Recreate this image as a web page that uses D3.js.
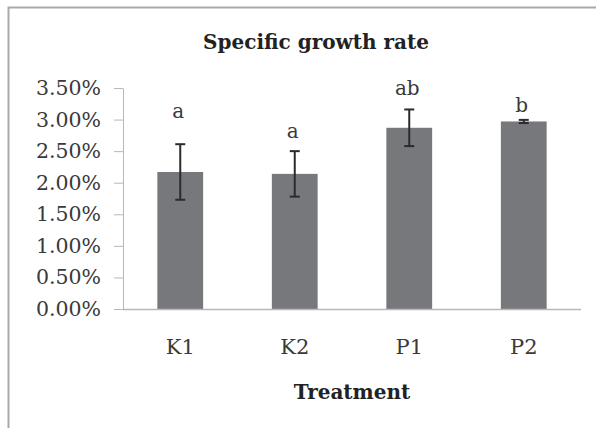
<!DOCTYPE html>
<html>
<head>
<meta charset="utf-8">
<script src="https://cdn.jsdelivr.net/npm/d3@7/dist/d3.min.js"></script>
<style>
  body { margin: 0; background: #fff; }
  svg { display: block; }
</style>
</head>
<body>
<figure id="bar" style="margin:0"></figure>
<script>
// data (percent)
const treatments = ["K1", "K2", "P1", "P2"];
const growthRate = [2.17, 2.14, 2.87, 2.97];
const errorSize = [0.44, 0.36, 0.29, 0.025];
const groupLetters = ["a", "a", "ab", "b"];
// where each letter sits, in the same percent units
const letterLevel = [3.03, 2.71, 3.39, 3.125];
const yTicks = [0, 0.5, 1, 1.5, 2, 2.5, 3, 3.5];

const width = 596;
const height = 428;
const margin = { top: 88, right: 15, bottom: 119, left: 123 };

const font = "'DejaVu Serif', serif";
const textColor = "#3a3a3a";

const svg = d3.select("figure#bar")
  .append("svg")
  .attr("width", width)
  .attr("height", height);

// outer chart frame (runs past the right and bottom edges)
svg.append("rect")
  .attr("x", 8.5)
  .attr("y", 7.5)
  .attr("width", width + 20)
  .attr("height", height + 20)
  .attr("fill", "none")
  .attr("stroke", "#a9a9a9")
  .attr("stroke-width", 2);

const x = d3.scaleBand()
  .domain(treatments)
  .range([margin.left, width - margin.right])
  .paddingInner(0.6)
  .paddingOuter(0.3);

const y = d3.scaleLinear()
  .domain([0, 3.5])
  .range([height - margin.bottom, margin.top]);

// title
svg.append("text")
  .attr("x", 316)
  .attr("y", 49)
  .attr("text-anchor", "middle")
  .style("font-family", font)
  .style("font-weight", "bold")
  .style("font-size", "20px")
  .attr("fill", "#222")
  .text("Specific growth rate");

// y axis
const yAxis = svg.append("g")
  .attr("transform", "translate(" + margin.left + ",0)")
  .call(d3.axisLeft(y)
    .tickValues(yTicks)
    .tickSize(9)
    .tickSizeOuter(0)
    .tickPadding(13)
    .tickFormat(d => d.toFixed(2) + "%"));
yAxis.select(".domain").attr("stroke", "#b8b8b8");
yAxis.selectAll(".tick line").attr("stroke", "#b8b8b8");
yAxis.selectAll("text")
  .style("font-family", font)
  .style("font-size", "20.5px")
  .attr("fill", textColor);

// bars
svg.selectAll("rect.bar")
  .data(growthRate)
  .enter()
  .append("rect")
  .attr("class", "bar")
  .attr("x", (d, i) => x(treatments[i]))
  .attr("y", d => y(d))
  .attr("width", x.bandwidth())
  .attr("height", d => y(0) - y(d))
  .attr("fill", "#77787c");

// x axis line
svg.append("line")
  .attr("x1", margin.left)
  .attr("x2", width - margin.right)
  .attr("y1", y(0) + 0.5)
  .attr("y2", y(0) + 0.5)
  .attr("stroke", "#b8b8b8")
  .attr("stroke-width", 1.5);

// error bars
const capHalf = 5;
const err = svg.selectAll("g.err")
  .data(growthRate)
  .enter()
  .append("g")
  .attr("class", "err")
  .attr("stroke", "#2b2b2b")
  .attr("stroke-width", 2);
err.append("line")
  .attr("x1", (d, i) => x(treatments[i]) + x.bandwidth() / 2)
  .attr("x2", (d, i) => x(treatments[i]) + x.bandwidth() / 2)
  .attr("y1", (d, i) => y(d + errorSize[i]))
  .attr("y2", (d, i) => y(d - errorSize[i]));
err.append("line")
  .attr("x1", (d, i) => x(treatments[i]) + x.bandwidth() / 2 - capHalf)
  .attr("x2", (d, i) => x(treatments[i]) + x.bandwidth() / 2 + capHalf)
  .attr("y1", (d, i) => y(d + errorSize[i]))
  .attr("y2", (d, i) => y(d + errorSize[i]));
err.append("line")
  .attr("x1", (d, i) => x(treatments[i]) + x.bandwidth() / 2 - capHalf)
  .attr("x2", (d, i) => x(treatments[i]) + x.bandwidth() / 2 + capHalf)
  .attr("y1", (d, i) => y(d - errorSize[i]))
  .attr("y2", (d, i) => y(d - errorSize[i]));

// significance letters
svg.selectAll("text.letter")
  .data(groupLetters)
  .enter()
  .append("text")
  .attr("class", "letter")
  .attr("x", (d, i) => x(treatments[i]) + x.bandwidth() / 2 - 2)
  .attr("y", (d, i) => y(letterLevel[i]))
  .attr("text-anchor", "middle")
  .style("font-family", font)
  .style("font-size", "20px")
  .attr("fill", textColor)
  .text(d => d);

// category labels
svg.selectAll("text.cat")
  .data(treatments)
  .enter()
  .append("text")
  .attr("class", "cat")
  .attr("x", d => x(d) + x.bandwidth() / 2)
  .attr("y", 354)
  .attr("text-anchor", "middle")
  .style("font-family", font)
  .style("font-size", "21px")
  .attr("fill", textColor)
  .text(d => d);

// axis title
svg.append("text")
  .attr("x", 352)
  .attr("y", 399)
  .attr("text-anchor", "middle")
  .style("font-family", font)
  .style("font-weight", "bold")
  .style("font-size", "20px")
  .attr("fill", "#222")
  .text("Treatment");
</script>
</body>
</html>
